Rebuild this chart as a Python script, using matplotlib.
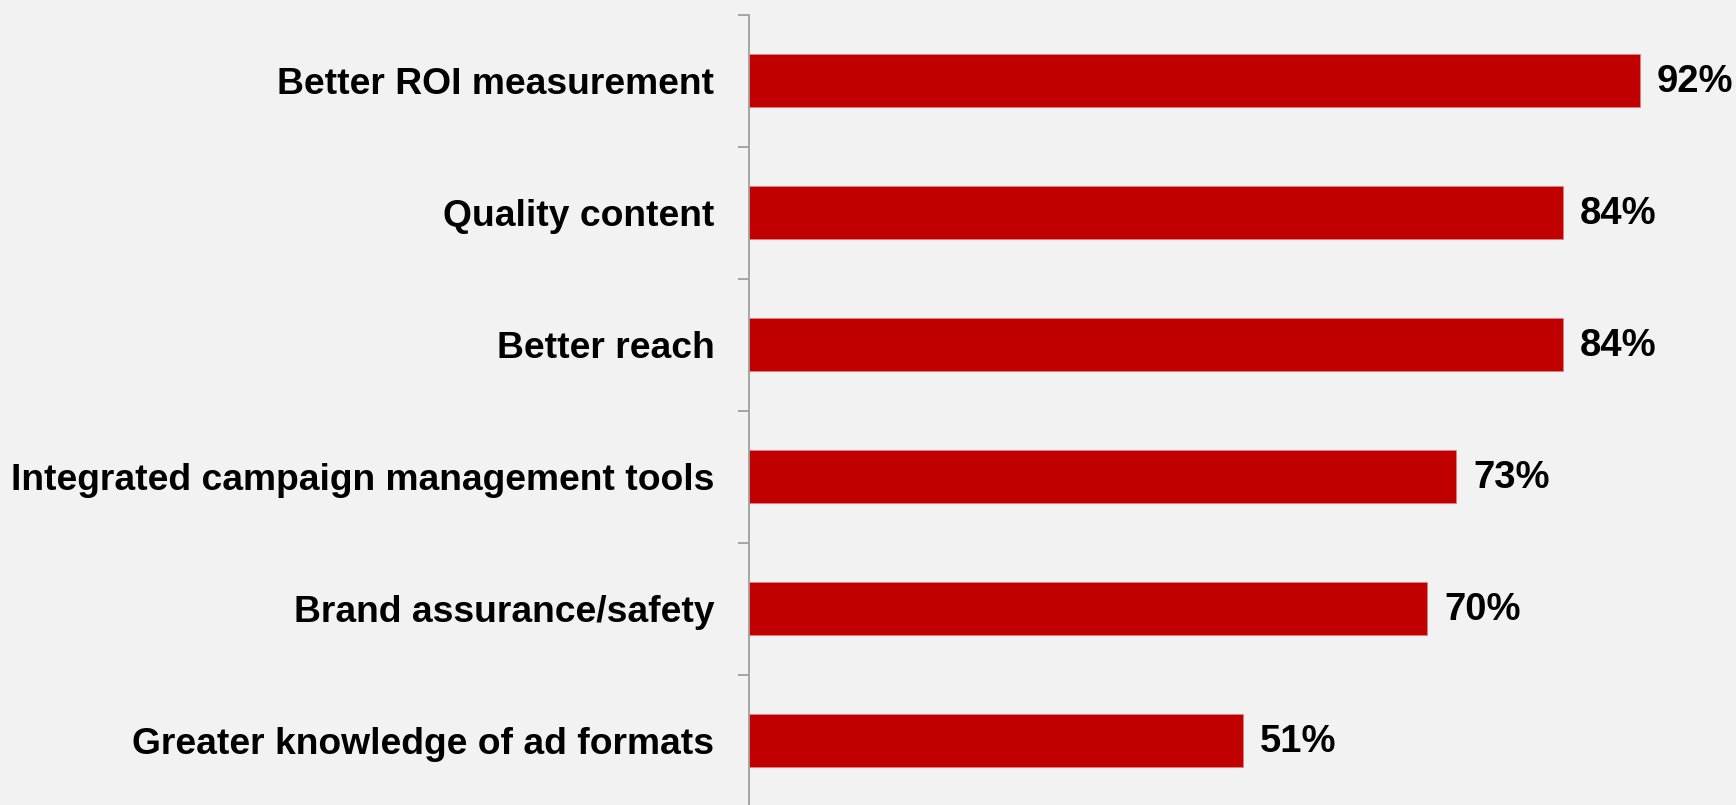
import matplotlib.pyplot as plt
import numpy as np

plt.rcParams['font.family'] = ['Liberation Sans', 'DejaVu Sans']

labels = [
    "Better ROI measurement",
    "Quality content",
    "Better reach",
    "Integrated campaign management tools",
    "Brand assurance/safety",
    "Greater knowledge of ad formats",
]
values = [92, 84, 84, 73, 70, 51]

bg = "#f2f2f2"
red = "#c00000"

fig = plt.figure(figsize=(17.36, 8.05), dpi=100, facecolor=bg)
ax = fig.add_axes([749 / 1736, -1.7 / 805, 1 - 749 / 1736, (806.7 - 14.7) / 805])
ax.set_facecolor(bg)

y = np.arange(len(labels))
ax.barh(y, values, height=0.4, color=red, edgecolor="#e08080", linewidth=0.6)

ax.set_xlim(0, 101.9)
ax.set_ylim(len(labels) - 0.5, -0.5)

for yi, v in zip(y, values):
    ax.text(v + 1.75, yi + 0.01, f"{v}%", va="center", ha="left",
            fontsize=27.5, fontweight="bold", color="black")

# category boundary ticks on the left spine, labels centred between them
ax.set_yticks(np.arange(len(labels) + 1) - 0.5)
ax.set_yticklabels([])
ax.set_yticks(y, minor=True)
ax.set_yticklabels(labels, minor=True, fontsize=26.8, fontweight="bold")
ax.tick_params(axis="y", which="major", length=8, width=1.2, color="#999999", direction="out")
ax.tick_params(axis="y", which="minor", length=0, pad=25)
ax.set_xticks([])

for s in ["top", "right", "bottom"]:
    ax.spines[s].set_visible(False)
ax.spines["left"].set_color("#999999")
ax.spines["left"].set_linewidth(1.2)

fig.savefig("out.png", dpi=100, facecolor=bg)
